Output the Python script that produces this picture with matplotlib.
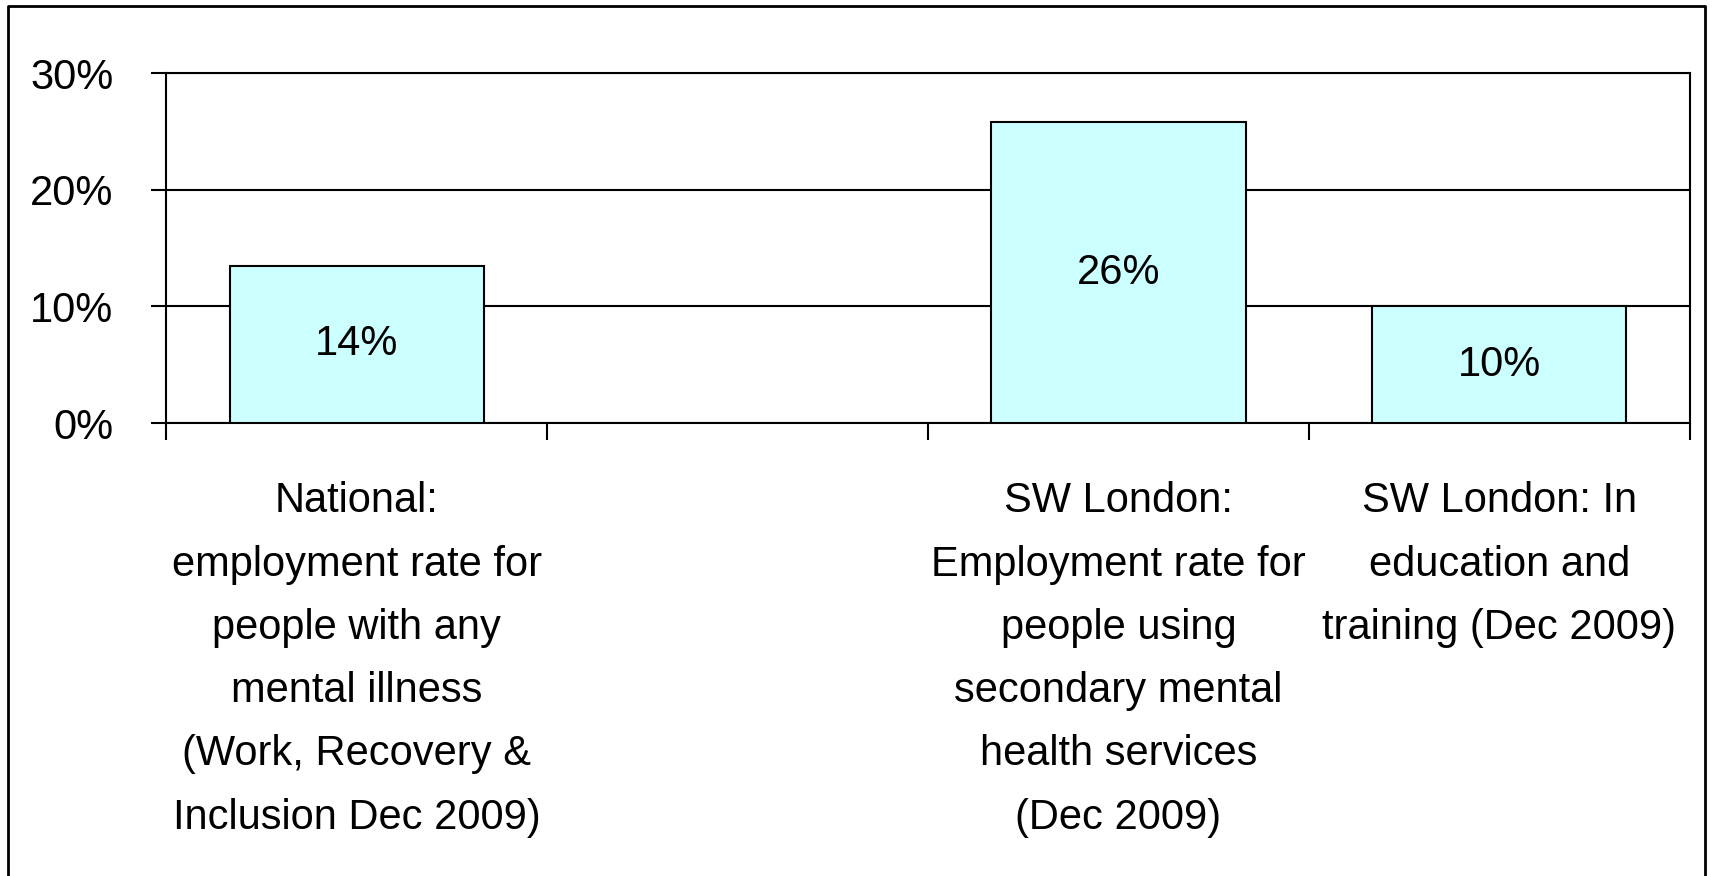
import numpy as np
import matplotlib.pyplot as plt
from matplotlib.lines import Line2D
from matplotlib.ticker import FixedLocator, PercentFormatter

# Chart data
categories = [
    "National:\nemployment rate for\npeople with any\nmental illness\n(Work, Recovery &\nInclusion Dec 2009)",
    "",
    "SW London:\nEmployment rate for\npeople using\nsecondary mental\nhealth services\n(Dec 2009)",
    "SW London: In\neducation and\ntraining (Dec 2009)",
]
values = [13.5, np.nan, 25.8, 10.0]
bar_labels = ["14%", "", "26%", "10%"]
y_ticks = [0, 10, 20, 30]

plt.rcParams['font.family'] = ['Liberation Sans Narrow', 'Liberation Sans', 'DejaVu Sans']

fig = plt.figure(figsize=(17.13, 8.76), dpi=100)
ax = fig.add_axes([0.097, 0.517, 0.8895, 0.3995])

x = np.arange(len(categories))
bars = ax.bar(x, values, width=0.667, color='#CCFFFF', edgecolor='black',
              linewidth=1.5, zorder=3)

# value labels centred inside the bars
for b, lab, v in zip(bars, bar_labels, values):
    if lab and not np.isnan(v):
        ax.text(b.get_x() + b.get_width() / 2, v / 2, lab, ha='center', va='center',
                fontsize=30, zorder=4)

ax.set_xlim(-0.5, len(categories) - 0.5)
ax.set_ylim(0, 30)
ax.yaxis.set_major_locator(FixedLocator(y_ticks))
ax.yaxis.set_major_formatter(PercentFormatter(decimals=0))
ax.grid(axis='y', color='black', linewidth=1.5, zorder=1)

# category boundary ticks, labels at centres
ax.xaxis.set_major_locator(FixedLocator(np.arange(len(categories) + 1) - 0.5))
ax.xaxis.set_major_formatter(plt.NullFormatter())
ax.set_xticks(x, minor=True)
ax.set_xticklabels(categories, minor=True, fontsize=30, linespacing=1.75, va='top')
ax.tick_params(axis='x', which='minor', length=0, pad=42)
ax.tick_params(axis='x', which='major', length=12, width=1.5, direction='out')
ax.tick_params(axis='y', length=11, width=1.5, direction='out', labelsize=30, pad=27)

for s in ax.spines.values():
    s.set_linewidth(1.5)
    s.set_color('black')

# outer chart border (bottom edge falls outside the image)
fig.add_artist(Line2D([0.0047, 0.0047, 0.9953, 0.9953], [-0.01, 0.9935, 0.9935, -0.01],
                      transform=fig.transFigure, color='black', linewidth=2))

fig.savefig('out.png', dpi=100, facecolor='white')
